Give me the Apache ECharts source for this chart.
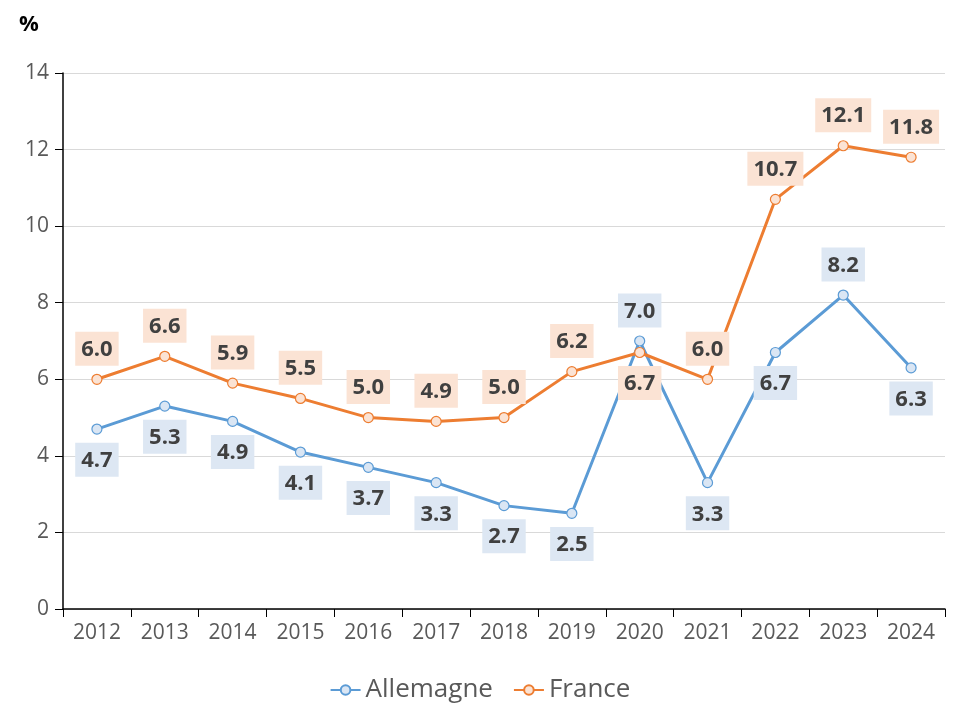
<!DOCTYPE html>
<html>
<head>
<meta charset="utf-8">
<script src="https://cdn.jsdelivr.net/npm/echarts@6/dist/echarts.min.js"></script>
<style>html,body{margin:0;padding:0;background:#fff}#c{width:960px;height:720px}</style>
</head>
<body>
<div id="c"></div>
<script>
var years = ['2012','2013','2014','2015','2016','2017','2018','2019','2020','2021','2022','2023','2024'];
var allemagne = [4.7,5.3,4.9,4.1,3.7,3.3,2.7,2.5,7.0,3.3,6.7,8.2,6.3];
var france = [6.0,6.6,5.9,5.5,5.0,4.9,5.0,6.2,6.7,6.0,10.7,12.1,11.8];
var allemagneLabelTop = [8, 11];
var franceLabelBottom = [8];

var FONT = '"Open Sans", "Noto Sans", sans-serif';
function makeData(vals, altIdx, defPos, altPos) {
  return vals.map(function (v, i) {
    var pos = altIdx.indexOf(i) >= 0 ? altPos : defPos;
    return { value: v, label: { position: pos } };
  });
}
function labelCfg(bg) {
  return {
    show: true,
    distance: 8,
    formatter: function (p) { return p.value.toFixed(1); },
    fontFamily: FONT,
    fontWeight: 'bold',
    fontSize: 22,
    color: '#404040',
    backgroundColor: bg,
    padding: [7, 6, 5, 6]
  };
}
var chart = echarts.init(document.getElementById('c'));
chart.setOption({
  animation: false,
  textStyle: { fontFamily: FONT },
  graphic: [{ type: 'text', left: 19, top: 14, style: { text: '%', font: 'bold 22px ' + FONT, fill: '#000' } }],
  grid: { left: 63, right: 15, top: 73, bottom: 111 },
  legend: {
    bottom: 12, left: 'center', itemWidth: 30, itemHeight: 12, itemGap: 20,
    textStyle: { fontSize: 26, color: '#595959', fontFamily: FONT },
    data: ['Allemagne', 'France']
  },
  xAxis: {
    type: 'category', data: years, boundaryGap: true,
    axisLine: { lineStyle: { color: '#000', width: 1.5 } },
    axisTick: { show: true, length: 8, lineStyle: { color: '#000' } },
    axisLabel: { fontSize: 21, color: '#595959', margin: 14 }
  },
  yAxis: {
    type: 'value', min: 0, max: 14, interval: 2,
    axisLine: { show: true, lineStyle: { color: '#000', width: 1.5 } },
    axisTick: { show: true, length: 8, lineStyle: { color: '#000' } },
    axisLabel: { fontSize: 21, color: '#595959', margin: 14 },
    splitLine: { lineStyle: { color: '#d9d9d9' } }
  },
  series: [
    {
      name: 'Allemagne', type: 'line', data: makeData(allemagne, allemagneLabelTop, 'bottom', 'top'),
      symbol: 'circle', symbolSize: 10,
      lineStyle: { color: '#5b9bd5', width: 3 },
      itemStyle: { color: '#dae6f4', borderColor: '#5b9bd5', borderWidth: 1.2 },
      label: labelCfg('#dde7f3'), z: 2
    },
    {
      name: 'France', type: 'line', data: makeData(france, franceLabelBottom, 'top', 'bottom'),
      symbol: 'circle', symbolSize: 10,
      lineStyle: { color: '#ed7d31', width: 3 },
      itemStyle: { color: '#fbe3d4', borderColor: '#ed7d31', borderWidth: 1.2 },
      label: labelCfg('#fbe3d4'), z: 3
    }
  ]
});
</script>
</body>
</html>
